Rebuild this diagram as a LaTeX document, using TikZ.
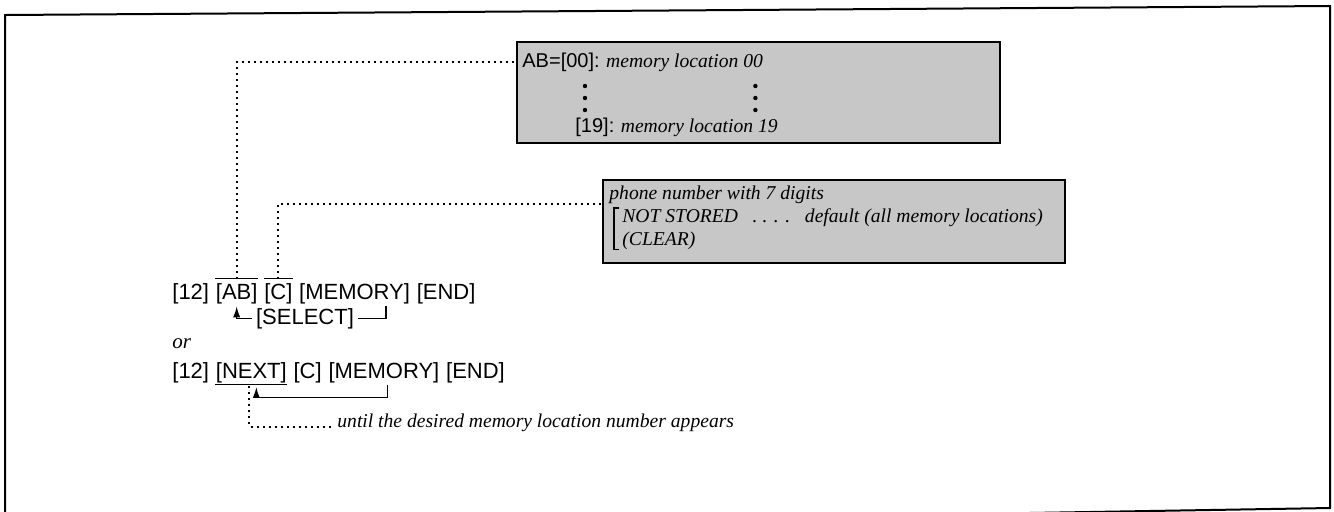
\documentclass[tikz,border=0pt]{standalone}
\usepackage{fontspec}
\newfontfamily\keyfont{Liberation Sans}
\newfontfamily\notefont{Liberation Serif}
\usetikzlibrary{arrows.meta,calc,positioning}

\begin{document}
\begin{tikzpicture}[
  x=0.5pt,
  y=-0.5pt,
  >=Latex,
  line/.style={draw=black,line width=0.7pt},
  outline/.style={line,line width=1pt},
  memobox/.style={line,line width=1.1pt,fill=black!22,inner sep=0pt},
  keycap/.style={font=\keyfont\fontsize{11}{13}\selectfont,inner sep=0pt},
  hint/.style={font=\notefont\itshape\fontsize{9.8}{11.5}\selectfont,inner sep=0pt},
  overbar/.style={line,line width=0.8pt},
  dotline/.style={draw=black,line width=1pt,dash pattern=on 1pt off 2pt},
  arrow/.style={line,-{Latex[length=5.5pt,width=3.6pt]}}
]
\useasboundingbox (0,0) rectangle (1334,511);

% ---------------------------------------------------------------- frame (scanned sheet, slightly tilted)
\draw[outline] (5,530) -- (5,15) -- (1330,6) -- (1330,508) -- cycle;

% ---------------------------------------------------------------- memory location box
\node[memobox,minimum width=241.5pt,minimum height=50.5pt] (locbox) at (758.5,92.5) {};
\node[hint,anchor=base west] (loc00) at (522,67) {{\upshape\keyfont\fontsize{10}{12}\selectfont AB=[00]:} memory location 00};
\node[hint,anchor=base west] (loc19) at (575,132) {{\upshape\keyfont\fontsize{10}{12}\selectfont [19]:} memory location 19};
% vertical ellipses between the two lines
\coordinate (ldots) at ([xshift=5pt]loc19.north west);
\coordinate (rdots) at ([xshift=-4pt]loc00.north east);
\foreach \dy in {86,98,110}{
  \fill (ldots |- 0,\dy) circle[radius=1.1pt];
  \fill (rdots |- 0,\dy) circle[radius=1.1pt];
}

% ---------------------------------------------------------------- phone number box
\node[memobox,minimum width=231pt,minimum height=41.5pt] (numbox) at (834,221.5) {};
\node[hint,anchor=base west] (phone) at (609,199) {phone number with 7 digits};
\node[hint,anchor=base west] (nots) at (622,222) {NOT STORED\ \ \ . . . .\ \ \ default (all memory locations)};
\node[hint,anchor=base west] (clear) at (622,245) {(CLEAR)};
\draw[line] ([xshift=-1.5pt]nots.north west) -- ++(-5,0) |- ([xshift=-1.5pt]clear.south west);

% ---------------------------------------------------------------- first key sequence
\node[keycap,anchor=base west] (k12a) at (172,299) {[12]};
\node[keycap,base right=3pt of k12a] (ab) {[AB]};
\node[keycap,base right=3pt of ab] (c1) {[C]};
\node[keycap,base right=3pt of c1] (mem1) {[MEMORY]};
\node[keycap,base right=3pt of mem1] (end1) {[END]};
\draw[overbar] ([yshift=2pt]ab.north west) -- ([yshift=2pt]ab.north east);
\draw[overbar] ([yshift=2pt]c1.north west) -- ([yshift=2pt]c1.north east);

% dotted leaders up to the boxes
\draw[dotline] ([yshift=2pt]ab.north) |- (locbox.west |- loc00.center);
\draw[dotline] ([yshift=2pt]c1.north) |- (numbox.west |- phone.south);

% select loop
\node[keycap,inner sep=2pt,anchor=base] (sel) at (305,324) {[SELECT]};
\coordinate (memsel) at ($(mem1.south west)!0.78!(mem1.south east)$);
\draw[arrow] (sel.west) -| ([yshift=-1.2pt]ab.south);
\draw[line] (sel.east) -| ([yshift=-1.2pt]memsel);

\node[hint,font=\notefont\itshape\fontsize{10.5}{12}\selectfont,anchor=base west] (alt) at (172,348) {or};

% ---------------------------------------------------------------- second key sequence
\node[keycap,anchor=base west] (k12b) at (172,378) {[12]};
\node[keycap,base right=3pt of k12b] (nx) {[NEXT]};
\node[keycap,base right=3pt of nx] (c2) {[C]};
\node[keycap,base right=3pt of c2] (mem2) {[MEMORY]};
\node[keycap,base right=3pt of mem2] (end2) {[END]};
\draw[overbar] ([yshift=-0.8pt]nx.south west) -- ([yshift=-0.8pt]nx.south east);

\coordinate (memnx) at ($(mem2.south west)!0.53!(mem2.south east)$);
\draw[arrow] ([yshift=-1.2pt]memnx) -- ++(0,12) -| ([xshift=2.5pt,yshift=-2pt]nx.south);

\node[hint,anchor=base west] (until) at (337,427) {until the desired memory location number appears};
\draw[dotline,shorten >=1.5pt] ([xshift=-1pt,yshift=-1.6pt]nx.south) |- (until.base west);

\end{tikzpicture}
\end{document}
